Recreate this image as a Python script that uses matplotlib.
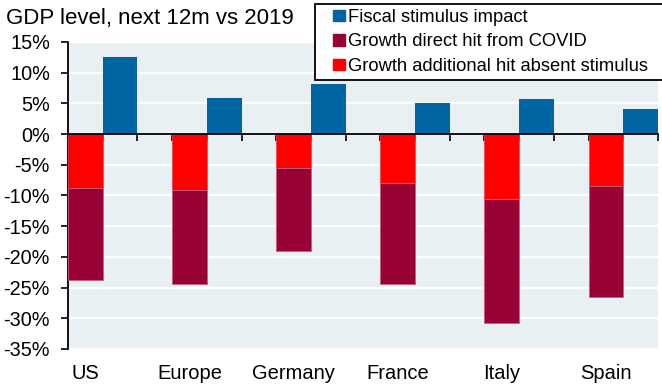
import matplotlib
matplotlib.use("Agg")
import matplotlib.pyplot as plt
from matplotlib.patches import Patch, Rectangle
from matplotlib.legend_handler import HandlerPatch
import numpy as np

plt.rcParams['font.family'] = ['Liberation Sans', 'DejaVu Sans']

# GDP level over the next 12 months relative to 2019, % points
countries = ["US", "Europe", "Germany", "France", "Italy", "Spain"]
fiscal_stimulus = [12.6, 5.9, 8.2, 5.1, 5.7, 4.1]
additional_hit = [-8.7, -9.1, -5.6, -7.9, -10.5, -8.5]      # hit absent stimulus
direct_hit = [-15.0, -15.3, -13.45, -16.5, -20.2, -18.0]    # direct COVID hit
y_ticks = [15, 10, 5, 0, -5, -10, -15, -20, -25, -30, -35]

c_blue = "#0066A3"
c_maroon = "#990033"
c_red = "#FF0000"
c_bg = "#E9F0F4"

fig = plt.figure(figsize=(6.62, 3.85), dpi=100)
ax = fig.add_axes([68 / 662, 1 - 349 / 385, 590 / 662, 307 / 385])
ax.set_facecolor(c_bg)

n = len(countries)
# three slots per country: stacked negative bar, stimulus bar, empty gap
neg_x = np.arange(n) * 3 + 0.5
pos_x = neg_x + 1.0

ax.bar(neg_x, additional_hit, width=1.0, color=c_red, edgecolor="#F04050",
       linewidth=0.5, zorder=3)
ax.bar(neg_x, direct_hit, width=1.0, bottom=additional_hit, color=c_maroon,
       edgecolor="#C8607A", linewidth=0.6, zorder=3)
ax.bar(pos_x, fiscal_stimulus, width=1.0, color=c_blue, zorder=3)

ax.set_xlim(0, 3 * n - 1)
ax.set_ylim(-35, 15)
ax.set_yticks(y_ticks)
ax.set_yticklabels([f"{v}%" for v in y_ticks])
ax.yaxis.grid(True, color="white", linewidth=1.6, zorder=1)
ax.set_axisbelow(True)

for side in ("top", "right"):
    ax.spines[side].set_visible(False)
ax.spines["left"].set_linewidth(1.3)
ax.spines["bottom"].set_position(("data", 0))
ax.spines["bottom"].set_linewidth(1.3)
ax.spines["bottom"].set_zorder(4)

ax.set_xticks(np.arange(1, 3 * n))
ax.tick_params(axis="x", direction="out", length=5, width=1.2, labelbottom=False)
ax.tick_params(axis="y", direction="out", length=5, width=1.2, pad=8,
               labelsize=14.3)

sec = ax.secondary_xaxis("bottom")
sec.set_xticks(neg_x, labels=countries)
sec.tick_params(length=0, pad=11, labelsize=14.5)
sec.spines["bottom"].set_visible(False)

fig.text(6 / 662, 1 - 24 / 385, "GDP level, next 12m vs 2019", fontsize=16,
         ha="left", va="baseline")


def square_at_right(legend, orig_handle, xdescent, ydescent, width, height,
                    fontsize):
    # small square swatch pushed to the right end of the handle box
    return Rectangle((width - height - xdescent, -ydescent), height, height)


handles = [Patch(color=c_blue, label="Fiscal stimulus impact"),
           Patch(color=c_maroon, label="Growth direct hit from COVID"),
           Patch(color=c_red, label="Growth additional hit absent stimulus")]
leg = fig.legend(handles=handles, loc="upper left",
                 bbox_to_anchor=(315 / 662, 1 - 4 / 385, 360 / 662, 0),
                 mode="expand", fontsize=13.2, frameon=True, fancybox=False,
                 edgecolor="black", framealpha=1, borderpad=0.28,
                 handlelength=1.35, handleheight=0.58, handletextpad=0.18,
                 labelspacing=0.4, borderaxespad=0,
                 handler_map={Patch: HandlerPatch(patch_func=square_at_right)})
leg.get_frame().set_linewidth(1.3)

fig.savefig("out.png", dpi=100)
